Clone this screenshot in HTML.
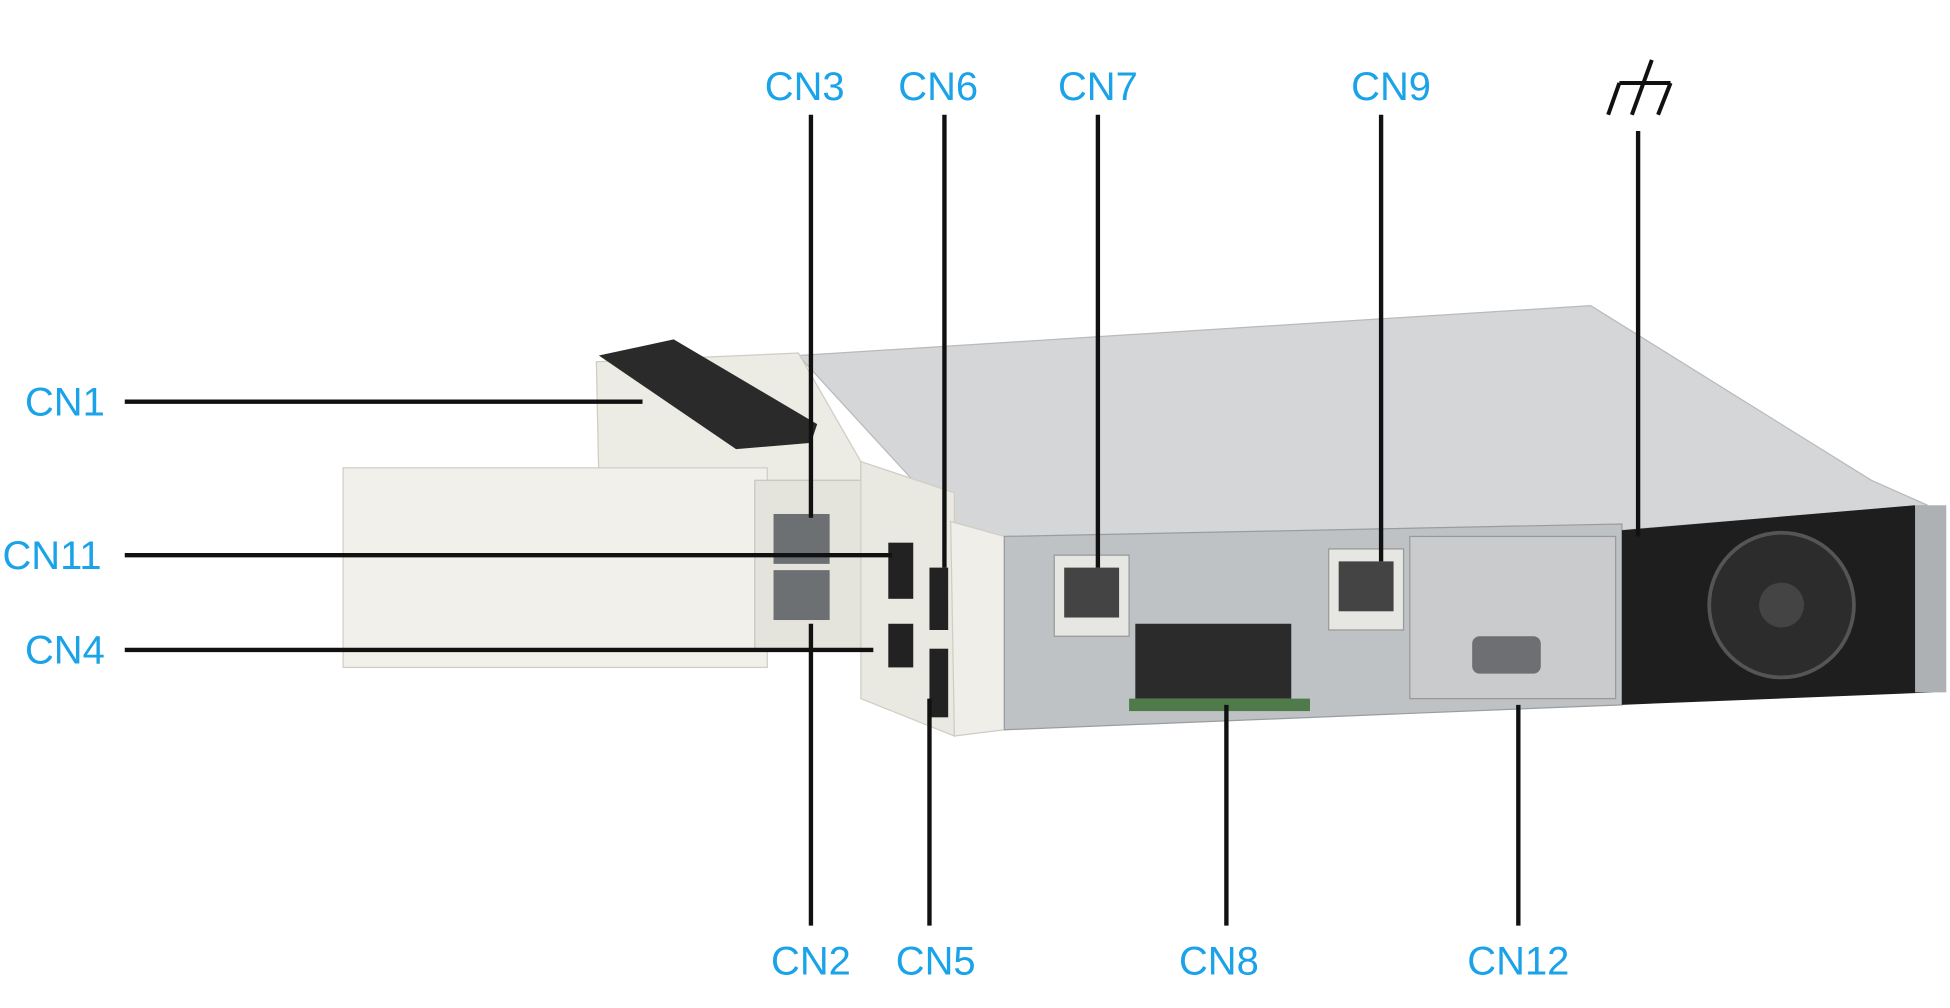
<!DOCTYPE html>
<html><head><meta charset="utf-8"><style>
html,body{margin:0;padding:0;background:#fff;width:1950px;height:1008px;overflow:hidden}
svg{display:block}
text{font-family:"Liberation Sans",sans-serif;font-size:32px;fill:#1aa3e8}
</style></head><body>
<svg width="1950" height="1008" viewBox="0 0 1563 808" preserveAspectRatio="none">
<polygon points="640,285 1275,245 1500,385 1545,405 1300,425 820,445 762,418" fill="#d4d6d8" stroke="#b8babd"/>
<polygon points="478,290 640,283 690,370 690,395 480,385" fill="#ecebe4" stroke="#cfcdc4"/>
<rect x="275" y="375" width="340" height="160" fill="#f1f0ea" stroke="#d0cec6"/>
<rect x="605" y="385" width="90" height="135" fill="#e4e3dc" stroke="#c8c6be"/>
<rect x="620" y="412" width="45" height="40" fill="#6d7073"/>
<rect x="620" y="457" width="45" height="40" fill="#6d7073"/>
<polygon points="690,370 765,395 765,590 690,560" fill="#e9e8e1" stroke="#cfcdc4"/>
<rect x="712" y="435" width="20" height="45" fill="#222"/>
<rect x="712" y="500" width="20" height="35" fill="#222"/>
<rect x="745" y="455" width="15" height="50" fill="#222"/>
<rect x="745" y="520" width="15" height="55" fill="#222"/>
<polygon points="480,285 540,272 655,340 650,355 590,360" fill="#2a2a2a"/>
<polygon points="762,418 805,430 805,585 765,590" fill="#efeee8" stroke="#cfcdc4"/>
<polygon points="805,430 1300,420 1300,565 805,585" fill="#bfc2c5" stroke="#9a9da0"/>
<rect x="845" y="445" width="60" height="65" fill="#e6e6e2" stroke="#999"/>
<rect x="853" y="455" width="44" height="40" fill="#444"/>
<rect x="1065" y="440" width="60" height="65" fill="#e6e6e2" stroke="#999"/>
<rect x="1073" y="450" width="44" height="40" fill="#444"/>
<rect x="910" y="500" width="125" height="60" fill="#2b2b2b"/>
<rect x="905" y="560" width="145" height="10" fill="#4f7a4a"/>
<rect x="1130" y="430" width="165" height="130" fill="#c9cbcd" stroke="#999"/>
<rect x="1180" y="510" width="55" height="30" rx="6" fill="#6d6f72"/>
<polygon points="1300,425 1535,405 1550,555 1300,565" fill="#1e1e1e"/>
<circle cx="1428" cy="485" r="58" fill="#2c2c2c" stroke="#555" stroke-width="3"/>
<circle cx="1428" cy="485" r="18" fill="#444"/>
<rect x="1535" y="405" width="25" height="150" fill="#aeb1b4"/>
<g stroke="#111" stroke-width="3.5" fill="none">
<line x1="650" y1="92" x2="650" y2="415"/>
<line x1="757" y1="92" x2="757" y2="455"/>
<line x1="880" y1="92" x2="880" y2="455"/>
<line x1="1107" y1="92" x2="1107" y2="450"/>
<line x1="1313" y1="105" x2="1313" y2="430"/>
<line x1="100" y1="322" x2="515" y2="322"/>
<line x1="100" y1="445" x2="715" y2="445"/>
<line x1="100" y1="521" x2="700" y2="521"/>
<line x1="650" y1="500" x2="650" y2="742"/>
<line x1="745" y1="560" x2="745" y2="742"/>
<line x1="983" y1="565" x2="983" y2="742"/>
<line x1="1217" y1="565" x2="1217" y2="742"/>
</g>
<g stroke="#111" stroke-width="3.2" fill="none">
<line x1="1298" y1="66.5" x2="1339" y2="66.5"/>
<line x1="1324" y1="48" x2="1308" y2="92"/>
<line x1="1298" y1="66.5" x2="1289" y2="92"/>
<line x1="1339" y1="66.5" x2="1329" y2="92"/>
</g>
<text x="645" y="80" text-anchor="middle">CN3</text>
<text x="752" y="80" text-anchor="middle">CN6</text>
<text x="880" y="80" text-anchor="middle">CN7</text>
<text x="1115" y="80" text-anchor="middle">CN9</text>
<text x="20" y="333">CN1</text>
<text x="2" y="456">CN11</text>
<text x="20" y="532">CN4</text>
<text x="650" y="781" text-anchor="middle">CN2</text>
<text x="750" y="781" text-anchor="middle">CN5</text>
<text x="977" y="781" text-anchor="middle">CN8</text>
<text x="1217" y="781" text-anchor="middle">CN12</text>
</svg>
</body></html>
